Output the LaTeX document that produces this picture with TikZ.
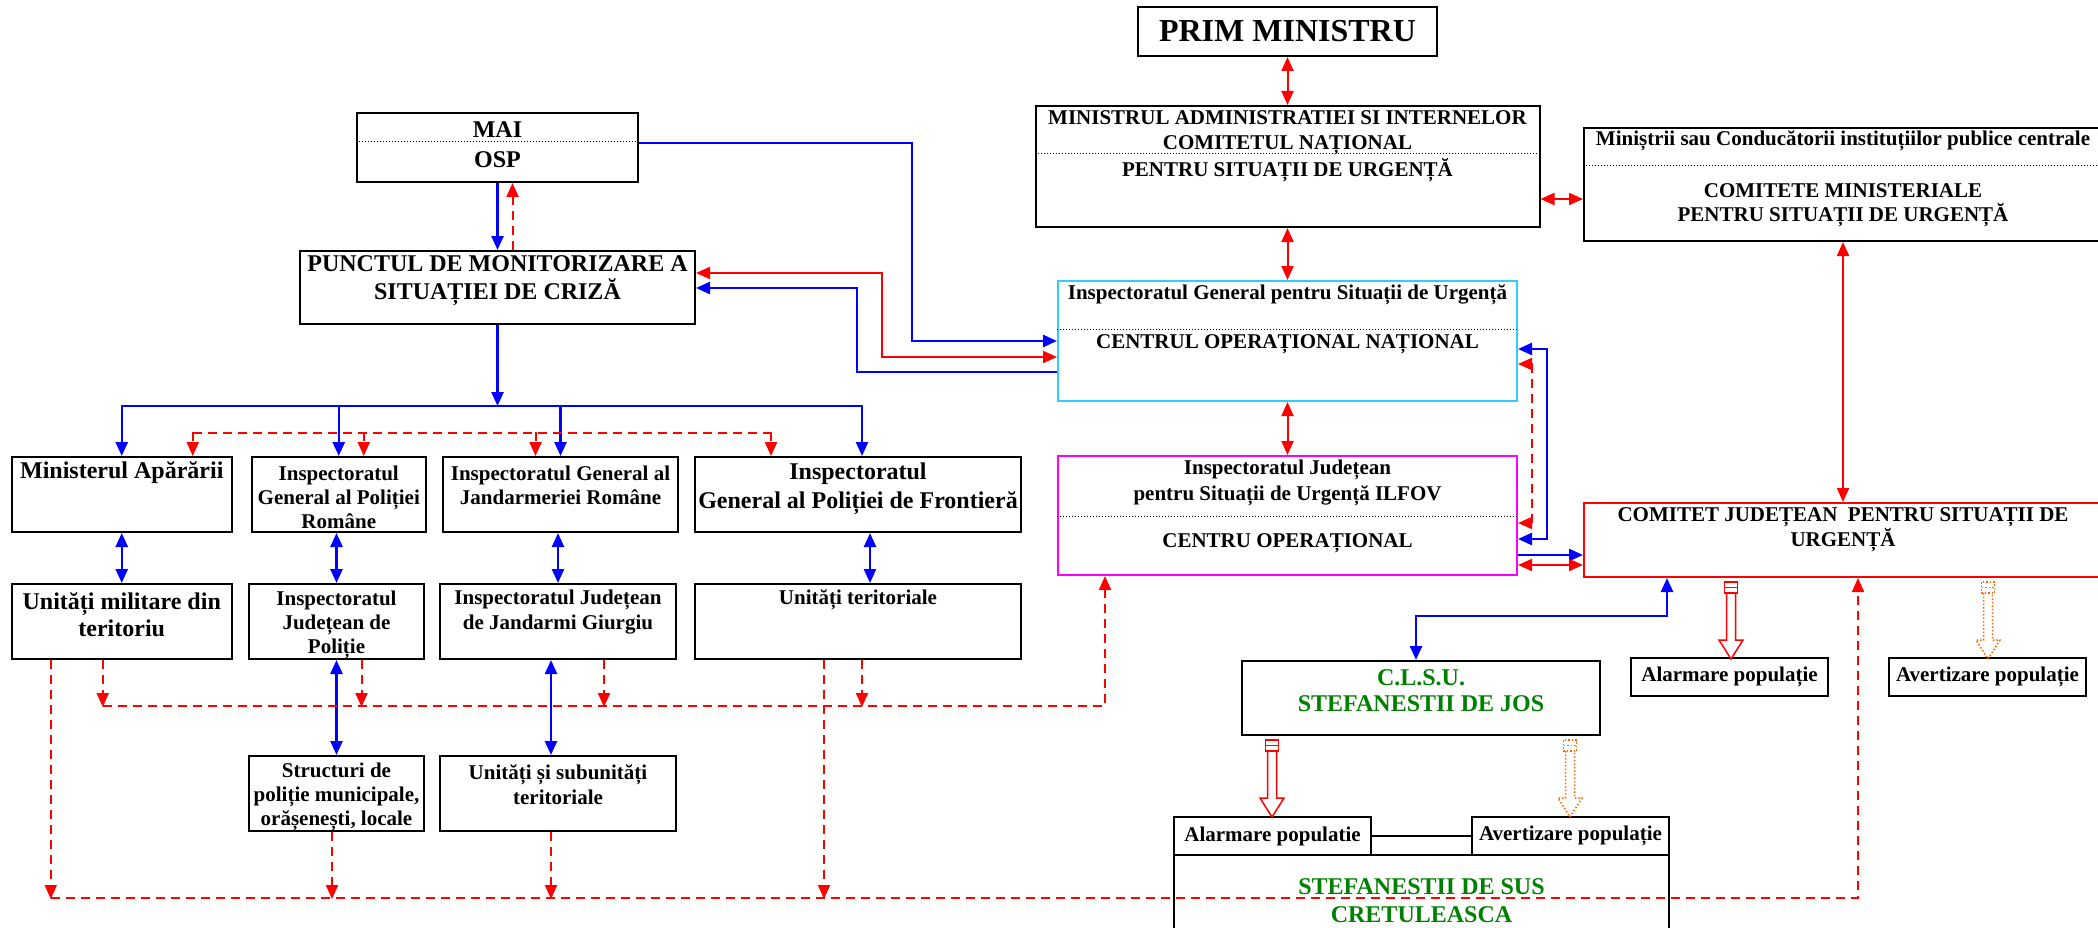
\documentclass[tikz,border=0pt]{standalone}
\usepackage{fontspec}
\setmainfont{Liberation Serif}
\usepackage{tikz}
\usetikzlibrary{arrows.meta}
\definecolor{lnkblue}{RGB}{0,0,255}
\definecolor{lnkred}{RGB}{255,0,0}
\definecolor{igsucyan}{RGB}{51,204,255}
\definecolor{ijsumag}{RGB}{255,0,255}
\definecolor{locgreen}{RGB}{0,128,0}
\definecolor{warnorange}{RGB}{255,102,0}
\tikzset{
    Box/.style = {draw,line width=2pt,inner sep=0pt},
    Txt/.style = {font=\fontsize{21}{24}\selectfont\bfseries,align=center,inner sep=0pt},
    BigTxt/.style = {font=\fontsize{24}{28}\selectfont\bfseries,align=center,inner sep=0pt},
    Sep/.style = {line width=1pt,dash pattern=on 1pt off 2pt},
    BlueLink/.style = {lnkblue,line width=2.5pt},
    RedLink/.style = {lnkred,line width=2pt},
    RedDash/.style = {lnkred,line width=2pt,dash pattern=on 9pt off 6pt},
    pics/popalarm/.style = {code={
        \draw (-6.5,4) rectangle (6.5,15) (-6.5,9.5) -- (6.5,9.5);
        \draw (-4.5,15) -- (-4.5,62) -- (-12,62) -- (0,81) -- (12,62) -- (4.5,62) -- (4.5,15);
    }}
}
\begin{document}
\begin{tikzpicture}[x=1pt,y=-1pt,>={Triangle[length=14pt,width=12pt]}]
\useasboundingbox (0,0) rectangle (2098,928);
% national level
\node[Box,minimum width=299pt,minimum height=49pt,font=\fontsize{32}{36}\selectfont\bfseries] (prim) at (1287.5,31.5) {PRIM MINISTRU};
\node[Box,minimum width=504pt,minimum height=121pt] (maisi) at (1287.5,166.5) {};
\node[Txt,font=\fontsize{21}{25}\selectfont\bfseries] (maisi-t) at (1287.5,132.5) {MINISTRUL ADMINISTRATIEI SI INTERNELOR\\COMITETUL NAȚIONAL};
\draw[Sep] (maisi.west |- 0,154) -- (maisi.east |- 0,154);
\node[Txt] (maisi-b) at (1287.5,170) {PENTRU SITUAȚII DE URGENȚĂ};
\node[Box,minimum width=518pt,minimum height=113pt] (minis) at (1843,184.5) {};
\node[Txt] (minis-t) at (1843,141) {Miniștrii sau Conducătorii instituțiilor publice centrale};
\draw[Sep] (minis.west |- 0,166) -- (minis.east |- 0,166);
\node[Txt] (minis-b) at (1843,205) {COMITETE MINISTERIALE\\PENTRU SITUAȚII DE URGENȚĂ};
\node[Box,draw=igsucyan,minimum width=459pt,minimum height=120pt] (igsu) at (1287.5,341) {};
\node[Txt] (igsu-t) at (1287.5,295) {Inspectoratul General pentru Situații de Urgență};
\draw[Sep] (igsu.west |- 0,329) -- (igsu.east |- 0,329);
\node[Txt] (igsu-b) at (1287.5,344) {CENTRUL OPERAȚIONAL NAȚIONAL};
% county level
\node[Box,draw=ijsumag,minimum width=459pt,minimum height=119pt] (ijsu) at (1287.5,515.5) {};
\node[Txt,font=\fontsize{21}{26}\selectfont\bfseries] (ijsu-t) at (1287.5,483) {Inspectoratul Județean\\pentru Situații de Urgență ILFOV};
\draw[Sep] (ijsu.west |- 0,516) -- (ijsu.east |- 0,516);
\node[Txt] (ijsu-b) at (1287.5,543) {CENTRU OPERAȚIONAL};
\node[Box,draw=lnkred,minimum width=518pt,minimum height=74pt] (cjsu) at (1843,540) {};
\node[Txt,font=\fontsize{21}{25}\selectfont\bfseries] (cjsu-t) at (1843,529.5) {COMITET JUDEȚEAN\ \ PENTRU SITUAȚII DE\\URGENȚĂ};
% MAI
\node[Box,minimum width=281pt,minimum height=69pt] (mai) at (497.5,147.5) {};
\node[BigTxt] (mai-t) at (497.5,130) {MAI};
\draw[Sep] (mai.west |- 0,142) -- (mai.east |- 0,142);
\node[BigTxt] (mai-b) at (497.5,160) {OSP};
\node[Box,minimum width=395pt,minimum height=73pt] (punct) at (497.5,287.5) {};
\node[BigTxt] (punct-t) at (497.5,281) {PUNCTUL DE MONITORIZARE A\\SITUAȚIEI DE CRIZĂ};
% first row
\node[Box,minimum width=220.5pt,minimum height=75pt] (ma) at (121.75,494.5) {};
\node[BigTxt] (ma-t) at (121.75,473) {Ministerul Apărării};
\node[Box,minimum width=174.5pt,minimum height=75pt] (igpr) at (338.75,494.5) {};
\node[Txt] (igpr-t) at (338.75,497) {Inspectoratul\\General al Poliției\\Române};
\node[Box,minimum width=235pt,minimum height=75pt] (igjr) at (560.5,494.5) {};
\node[Txt] (igjr-t) at (560.5,485) {Inspectoratul General al\\Jandarmeriei Române};
\node[Box,minimum width=326pt,minimum height=75pt] (igpf) at (858,494.5) {};
\node[BigTxt,font=\fontsize{24}{29}\selectfont\bfseries] (igpf-t) at (858,488.5) {Inspectoratul\\General al Poliției de Frontieră};
% second row
\node[Box,minimum width=220.5pt,minimum height=75pt] (um) at (121.75,621.5) {};
\node[BigTxt,font=\fontsize{24}{27}\selectfont\bfseries] (um-t) at (121.75,614.5) {Unități militare din\\teritoriu};
\node[Box,minimum width=175pt,minimum height=75pt] (ijp) at (336.5,621.5) {};
\node[Txt] (ijp-t) at (336.5,625) {Inspectoratul\\Județean de\\Poliție};
\node[Box,minimum width=236pt,minimum height=75pt] (ijj) at (558,621.5) {};
\node[Txt,font=\fontsize{21}{25}\selectfont\bfseries] (ijj-t) at (558,612.5) {Inspectoratul Județean\\de Jandarmi Giurgiu};
\node[Box,minimum width=326pt,minimum height=75pt] (ut) at (858,621.5) {};
\node[Txt] (ut-t) at (858,600) {Unități teritoriale};
% third row
\node[Box,minimum width=175pt,minimum height=75pt] (struct) at (336.5,793.5) {};
\node[Txt] (struct-t) at (336.5,797) {Structuri de\\poliție municipale,\\orășenești, locale};
\node[Box,minimum width=236pt,minimum height=75pt] (unit) at (558,793.5) {};
\node[Txt,font=\fontsize{21}{25}\selectfont\bfseries] (unit-t) at (558,784.5) {Unități și subunități\\teritoriale};
% local level
\node[Box,minimum width=358pt,minimum height=74pt] (clsu) at (1421,698) {};
\node[BigTxt,text=locgreen,font=\fontsize{24}{26}\selectfont\bfseries] (clsu-t) at (1421,691) {C.L.S.U.\\STEFANESTII DE JOS};
\node[Box,Txt,minimum width=197pt,minimum height=38pt] (alarm1) at (1729.5,677) {Alarmare populație};
\node[Box,Txt,minimum width=197pt,minimum height=38pt] (avert1) at (1987.5,677) {Avertizare populație};
\node[Box,Txt,minimum width=197pt,minimum height=38pt] (alarm2) at (1272.5,836) {Alarmare populatie};
\node[Box,Txt,minimum width=197pt,minimum height=38pt] (avert2) at (1570.5,836) {Avertizare populație};
\draw[line width=2pt] (alarm2) -- (avert2);
\node[Box,minimum width=495pt,minimum height=105pt] (sus) at (1421.5,907.5) {};
\node[BigTxt,text=locgreen] (sus-t) at (1421.5,901) {STEFANESTII DE SUS\\CRETULEASCA};
% connectors
\draw[RedLink,<->] (prim) -- (maisi);
\draw[RedLink,<->] (maisi) -- (igsu);
\draw[RedLink,<->] (igsu) -- (ijsu);
\draw[RedLink,<->] (maisi.east |- 0,199) -- (minis.west |- 0,199);
\draw[RedLink,<->] (minis) -- (cjsu);
\draw[BlueLink,->] (mai) -- (punct);
\draw[RedDash,->] ([xshift=15pt]punct.north) -- ([xshift=15pt]mai.south);
\draw[BlueLink,->] ([yshift=4.5pt]mai.east) -| (912,341) -- (igsu.west |- 0,341);
\draw[RedLink,<->] ([yshift=14.5pt]punct.east) -| (882,357) -- (igsu.west |- 0,357);
\draw[BlueLink,->] (igsu.west |- 0,372) -| (857,288) -- (punct.east |- 0,288);
\draw[BlueLink,->] (punct) -- (punct.south |- 0,406);
\draw[BlueLink] (121,406) -- (862,406);
\foreach \X/\Y in {ma/0,igpr/0,igjr/0,igpf/4}
    {\draw[BlueLink,->] ([xshift=\Y pt,yshift=51pt]\X.north) -- ([xshift=\Y pt]\X.north);}
\draw[RedDash] (193,433) -- (771,433);
\foreach \X/\Y in {ma/71,igpr/25,igjr/-25,igpf/-87}
    {\draw[RedDash,->] ([xshift=\Y pt,yshift=24pt]\X.north) -- ([xshift=\Y pt]\X.north);}
\draw[BlueLink,<->] (ma) -- (um);
\draw[BlueLink,<->] (ijp.north |- igpr.south) -- (ijp);
\draw[BlueLink,<->] (ijj.north |- igjr.south) -- (ijj);
\draw[BlueLink,<->] ([xshift=12pt]igpf.south) -- ([xshift=12pt]ut.north);
\draw[BlueLink,<->] (ijp) -- (struct);
\draw[BlueLink,<->] ([xshift=-7pt]ijj.south) -- ([xshift=-7pt]unit.north);
\foreach \X/\Y in {um/-19,ijp/25,ijj/46,ut/4}
    {\draw[RedDash,->] ([xshift=\Y pt]\X.south) -- ++(0,47);}
\draw[RedDash,->] (103,706) -| ([xshift=-182.5pt]ijsu.south);
\foreach \X/\Y/\Z in {um/-71/239,ut/-34/239,struct/-4.5/67,unit/-7/67}
    {\draw[RedDash,->] ([xshift=\Y pt]\X.south) -- ++(0,\Z);}
\draw[RedDash,->] (51,898) -| ([xshift=15pt]cjsu.south);
\draw[RedDash,<->] (igsu.east |- 0,364) -- ++(14,0) |- (ijsu.east |- 0,523);
\draw[BlueLink,<->] (igsu.east |- 0,349) -- ++(29,0) |- (ijsu.east |- 0,539);
\draw[BlueLink,->] (ijsu.east |- 0,555) -- (cjsu.west |- 0,555);
\draw[RedLink,<->] (ijsu.east |- 0,565) -- (cjsu.west |- 0,565);
\draw[BlueLink,<->] ([xshift=-176pt]cjsu.south) -- ++(0,38) -| ([xshift=-5pt]clsu.north);
\pic[lnkred,line width=1.5pt] at ([xshift=-112pt]cjsu.south) {popalarm};
\pic[warnorange,line width=1.5pt,dotted] at ([xshift=145pt]cjsu.south) {popalarm};
\pic[lnkred,line width=1.5pt] at ([xshift=-149pt]clsu.south) {popalarm};
\pic[warnorange,line width=1.5pt,dotted] at ([xshift=149pt]clsu.south) {popalarm};
\end{tikzpicture}
\end{document}
